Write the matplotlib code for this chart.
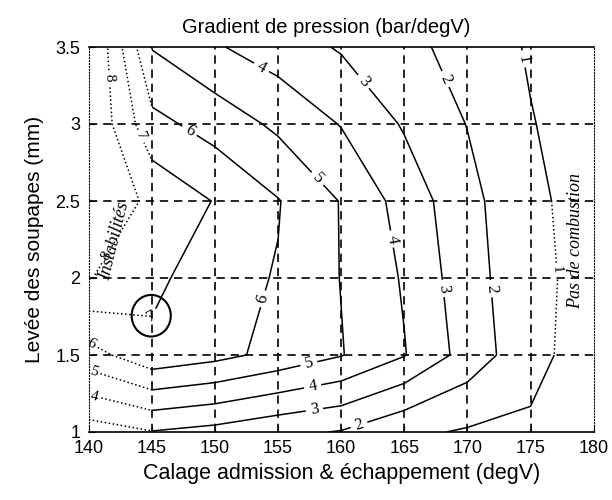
import numpy as np
import matplotlib.pyplot as plt
from matplotlib.patches import Ellipse, Polygon, PathPatch
from matplotlib.path import Path

plt.rcParams['font.family'] = ['Liberation Sans', 'DejaVu Sans']

# Grid of the measurement (calage in degV, levée in mm)
x_calage = [140, 145, 150, 155, 160, 165, 170, 175, 180]
y_levee = [1.0, 1.5, 2.0, 2.5, 3.0, 3.5]
y_ticklabels = ['1', '1.5', '2', '2.5', '3', '3.5']

# Pressure gradient (bar/degV), one row per valve lift
grad_10 = [2.5, 2.95, 2.67, 2.24, 1.94, 1.2, 0.9, 0.85, 0.4]
grad_15 = [5.6, 6.7, 6.3, 5.7, 5.05, 4.05, 2.6, 1.3, 0.5]
grad_20 = [8.05, 7.3, 6.3, 5.95, 4.97, 3.9, 2.4, 1.3, 0.6]
grad_25 = [8.8, 7.8, 6.95, 6.05, 4.95, 3.6, 2.3, 1.2, 0.6]
grad_30 = [9.0, 6.3, 5.6, 4.8, 3.95, 2.9, 1.97, 1.05, 0.5]
grad_35 = [9.29, 4.95, 4.1, 3.5, 2.9, 2.3, 1.6, 0.9, 0.5]

levels = [1, 2, 3, 4, 5, 6, 7, 8]

X, Y = np.meshgrid(x_calage, y_levee)
Z = np.array([grad_10, grad_15, grad_20, grad_25, grad_30, grad_35])

fig = plt.figure(figsize=(6.12, 5.0), dpi=100)
ax = fig.add_axes([0.145, 0.136, 0.825, 0.77])
ax.set_xlim(140, 180)
ax.set_ylim(1, 3.5)

# dashed grid (inner lines only)
for xv in x_calage[1:-1]:
    ax.axvline(xv, color='black', lw=1.2, linestyle=(0, (5, 3.5)), zorder=1)
for yv in y_levee[1:-1]:
    ax.axhline(yv, color='black', lw=1.2, linestyle=(0, (5, 3.5)), zorder=1)

solid = ax.contour(X, Y, Z, levels=levels, colors='black',
                   linewidths=1.1, linestyles='solid', zorder=2)
dotted = ax.contour(X, Y, Z, levels=levels, colors='black',
                    linewidths=1.1, linestyles=':', zorder=2)

# solid where combustion is stable, dotted in "instabilités" / "pas de combustion" zones
solid_zone = Polygon([(145, 0.9), (181, 0.9), (181, 1.5), (175, 1.5), (175, 2.5),
                      (181, 2.5), (181, 3.6), (145, 3.6)],
                     closed=True, transform=ax.transData)
solid.set_clip_path(solid_zone)

verts = [(139, 0.9), (145, 0.9), (145, 3.6), (139, 3.6), (139, 0.9),
         (175, 1.5), (181, 1.5), (181, 2.5), (175, 2.5), (175, 1.5)]
codes = [Path.MOVETO, Path.LINETO, Path.LINETO, Path.LINETO, Path.CLOSEPOLY] * 2
dotted_zone = PathPatch(Path(verts, codes), transform=ax.transData)
dotted.set_clip_path(dotted_zone)

solid_label_pos = [(147.7, 2.92), (154.0, 1.86), (157.8, 2.62), (157.5, 1.42),
                   (153.5, 3.34), (163.8, 2.25), (157.8, 1.27), (161.4, 3.25),
                   (167.8, 1.93), (157.9, 1.13), (168.5, 3.3), (171.8, 1.93),
                   (161.4, 1.05), (174.3, 3.42), (145.0, 1.75)]
dotted_label_pos = [(141.2, 3.3), (142.2, 2.1), (143.6, 2.9), (140.4, 1.6),
                    (140.4, 1.4), (140.4, 1.22), (176.8, 2.05)]

lab1 = ax.clabel(solid, manual=solid_label_pos, inline=True, fmt='%d',
                 fontsize=12, inline_spacing=4)
lab2 = ax.clabel(dotted, manual=dotted_label_pos, inline=True, fmt='%d',
                 fontsize=11, inline_spacing=3)
for t in list(lab1) + list(lab2):
    t.set_family('Liberation Serif')

ax.add_patch(Ellipse((144.95, 1.755), width=3.1, height=0.27, fill=False,
                     lw=1.5, color='black', zorder=3))

ax.text(142.0, 2.24, 'Instabilités', rotation=76, style='italic',
        family='Liberation Serif', fontsize=13, ha='center', va='center')
ax.text(178.6, 2.24, 'Pas de combustion', rotation=90, style='italic',
        family='Liberation Serif', fontsize=13, ha='center', va='center')

ax.set_xticks(x_calage)
ax.set_yticks(y_levee)
ax.set_yticklabels(y_ticklabels)
ax.tick_params(direction='in', length=4, labelsize=13, pad=6)

for side in ['left', 'right']:
    ax.spines[side].set_linestyle(':')
for side in ['top', 'bottom']:
    ax.spines[side].set_linewidth(1.2)

ax.set_title('Gradient de pression (bar/degV)', fontsize=14.5, x=0.47, pad=10)
ax.set_xlabel('Calage admission & échappement (degV)', fontsize=15.5, labelpad=4)
ax.set_ylabel('Levée des soupapes (mm)', fontsize=15, labelpad=8)

fig.savefig('out.png', dpi=100)
